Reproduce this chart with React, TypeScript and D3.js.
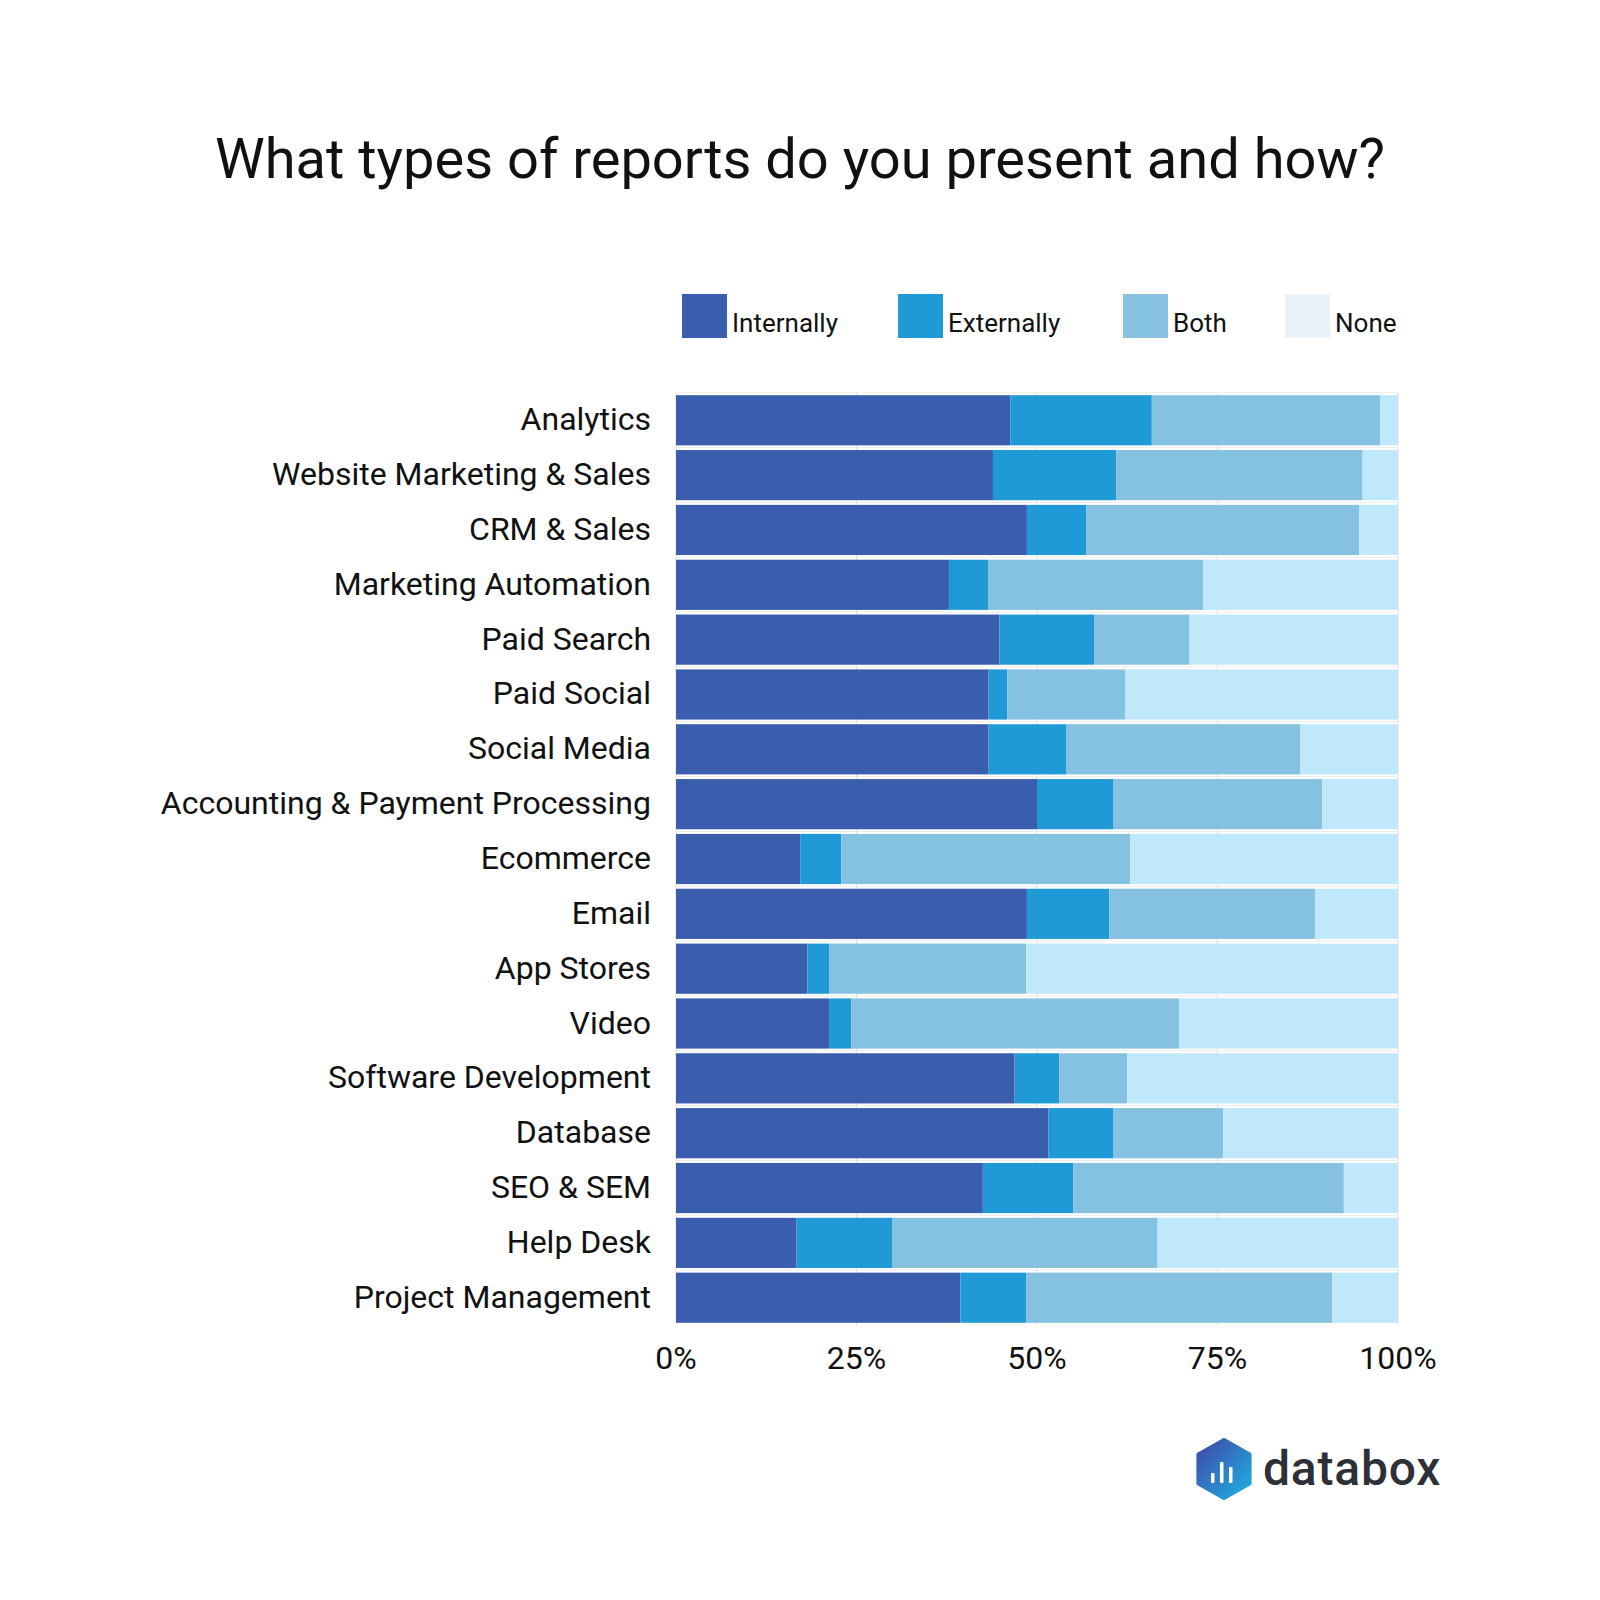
import React from "react";
import * as d3 from "d3";

const categories = [
  "Analytics",
  "Website Marketing & Sales",
  "CRM & Sales",
  "Marketing Automation",
  "Paid Search",
  "Paid Social",
  "Social Media",
  "Accounting & Payment Processing",
  "Ecommerce",
  "Email",
  "App Stores",
  "Video",
  "Software Development",
  "Database",
  "SEO & SEM",
  "Help Desk",
  "Project Management",
];

const internally = [46.3, 43.9, 48.6, 37.8, 44.8, 43.3, 43.3, 50.0, 17.2, 48.6, 18.2, 21.2, 46.9, 51.6, 42.5, 16.7, 39.4];
const externally = [19.6, 17.1, 8.2, 5.5, 13.1, 2.6, 10.8, 10.6, 5.7, 11.4, 3.0, 3.1, 6.2, 9.0, 12.5, 13.3, 9.1];
const both = [31.6, 34.1, 37.8, 29.7, 13.2, 16.3, 32.4, 28.9, 40.0, 28.5, 27.3, 45.4, 9.4, 15.2, 37.5, 36.7, 42.4];
const none = [2.5, 4.9, 5.4, 27.0, 28.9, 37.8, 13.5, 10.5, 37.1, 11.5, 51.5, 30.3, 37.5, 24.2, 7.5, 33.3, 9.1];

const seriesKeys = ["Internally", "Externally", "Both", "None"];
const barColors = ["#3A5DAE", "#1F9AD6", "#85C2E1", "#BFE8FA"];
const legendColors = ["#3A5DAE", "#1F9AD6", "#85C2E1", "#E9F2F8"];
const tickValues = [0, 25, 50, 75, 100];

const W = 1600;
const H = 1600;
const font = "Roboto, 'Noto Sans', sans-serif";

export default function App() {
  const rows = categories.map((c, i) => ({
    category: c,
    Internally: internally[i],
    Externally: externally[i],
    Both: both[i],
    None: none[i],
  }));

  // normalise so every bar fills 100%
  const stacked = d3
    .stack<any>()
    .keys(seriesKeys)
    .offset(d3.stackOffsetExpand)(rows);

  const x = d3.scaleLinear().domain([0, 1]).range([676, 1398]);
  const y = d3
    .scaleBand<string>()
    .domain(categories)
    .range([393, 1325])
    .paddingInner(0.085)
    .paddingOuter(0.04);

  // legend item positions follow the text widths
  const legendX = [682, 898, 1123, 1285];

  const hexR = 29;
  const hexCx = 1224;
  const hexCy = 1469;
  const hexPts = d3.range(6).map((k) => {
    const a = (Math.PI / 3) * k - Math.PI / 2;
    return [hexCx + hexR * 1.02 * Math.cos(a), hexCy + hexR * Math.sin(a)];
  });
  const hexPath = d3.line().curve(d3.curveLinearClosed)(hexPts as [number, number][]);

  return (
    <svg
      width={W}
      height={H}
      viewBox={`0 0 ${W} ${H}`}
      style={{ display: "block", position: "absolute", left: 0, top: 0, background: "#fff" }}
    >
      <defs>
        <linearGradient id="hexGrad" x1="0" y1="0" x2="1" y2="1">
          <stop offset="0%" stopColor="#4146A6" />
          <stop offset="100%" stopColor="#1CB3E3" />
        </linearGradient>
      </defs>
      <rect width={W} height={H} fill="#fff" />

      <text x={800} y={178} textAnchor="middle" fontFamily={font} fontSize={56} fill="#111">
        What types of reports do you present and how?
      </text>

      {/* legend */}
      {seriesKeys.map((k, i) => (
        <g key={k} transform={`translate(${legendX[i]},294)`}>
          <rect width={45} height={44} fill={legendColors[i]} />
          <text x={50} y={38} fontFamily={font} fontSize={26} fill="#111">
            {k}
          </text>
        </g>
      ))}

      {/* grid */}
      {tickValues.map((t) => (
        <line key={t} x1={x(t / 100)} x2={x(t / 100)} y1={393} y2={1325} stroke="#dedede" strokeWidth={1} />
      ))}
      {categories.map((c) => (
        <line key={c} x1={676} x2={1398} y1={(y(c) as number) - 2.5} y2={(y(c) as number) - 2.5} stroke="#ebebeb" strokeWidth={1} />
      ))}

      {/* bars */}
      {stacked.map((s, si) => (
        <g key={s.key} fill={barColors[si]}>
          {s.map((d, i) => (
            <rect
              key={i}
              x={x(d[0])}
              y={y(categories[i])}
              width={Math.max(0, x(d[1]) - x(d[0]))}
              height={y.bandwidth()}
            />
          ))}
        </g>
      ))}

      {/* category labels */}
      {categories.map((c) => (
        <text
          key={c}
          x={651}
          y={(y(c) as number) + y.bandwidth() / 2 + 10}
          textAnchor="end"
          fontFamily={font}
          fontSize={32}
          fill="#111"
        >
          {c}
        </text>
      ))}

      {/* x axis labels */}
      {tickValues.map((t) => (
        <text key={t} x={x(t / 100)} y={1369} textAnchor="middle" fontFamily={font} fontSize={32} fill="#111">
          {t}%
        </text>
      ))}

      {/* databox logo */}
      <path d={hexPath ?? ""} fill="url(#hexGrad)" stroke="url(#hexGrad)" strokeWidth={4} strokeLinejoin="round" />
      <rect x={1211} y={1473} width={3.5} height={10} fill="#fff" rx={1} />
      <rect x={1220} y={1462} width={3.5} height={21} fill="#fff" rx={1} />
      <rect x={1229} y={1467} width={3.5} height={16} fill="#fff" rx={1} />
      <text x={1263} y={1485} fontFamily={font} fontWeight={500} fontSize={48} fill="#2D3036" letterSpacing={0.8}>
        databox
      </text>
    </svg>
  );
}
